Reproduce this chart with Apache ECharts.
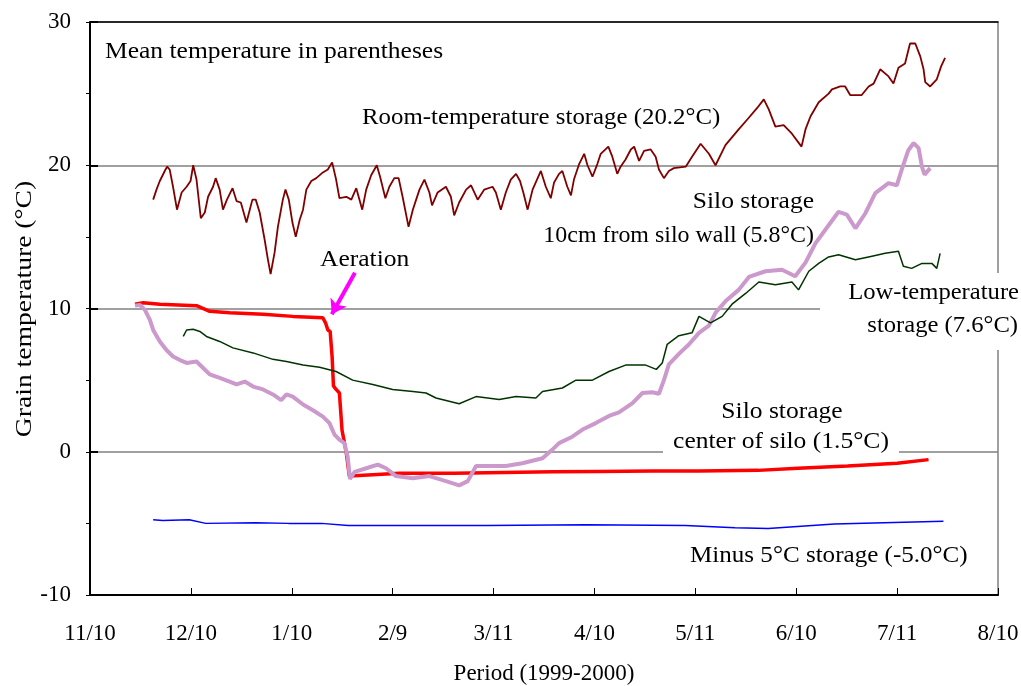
<!DOCTYPE html>
<html>
<head>
<meta charset="utf-8">
<script src="https://cdn.jsdelivr.net/npm/echarts@6.0.0/dist/echarts.min.js"></script>
<style>
  html, body { margin: 0; padding: 0; background: #fff; }
  #main { width: 1021px; height: 686px; }
</style>
</head>
<body>
<div id="main"></div>
<script>
// days counted from 11/10/1999; ticks every 30.5 days
var dayStep = 30.5;
var tickLabels = ['11/10', '12/10', '1/10', '2/9', '3/11', '4/10', '5/11', '6/10', '7/11', '8/10'];

// room-temperature storage [day, degC]
var roomTemp = [
  [19.1,17.6],[20.1,18.3],[21.1,18.9],[22.6,19.6],[23.3,19.9],[24.1,19.7],[25.1,18.5],[26.3,16.9],
  [27.7,18.1],[29.2,18.5],[30.4,18.9],[31.2,20.0],[32.2,19.0],[33.5,16.3],[34.7,16.7],[35.7,17.8],
  [37.2,18.5],[38.0,19.1],[39.2,18.3],[40.2,16.9],[41.4,17.6],[43.1,18.4],[44.3,17.5],[45.6,17.4],
  [47.3,16.0],[48.3,16.9],[49.1,17.6],[50.1,17.6],[51.3,16.7],[52.8,14.8],[53.8,13.4],[54.6,12.4],
  [55.8,13.9],[56.8,15.7],[58.3,17.6],[59.1,18.3],[60.1,17.6],[61.2,16.0],[62.2,15.0],[63.4,16.2],
  [64.4,16.9],[65.4,18.3],[66.9,18.9],[68.4,19.1],[70.4,19.5],[71.9,19.7],[73.2,20.2],[74.4,19.0],
  [75.4,17.7],[77.5,17.8],[79.0,17.6],[80.5,18.4],[82.3,16.9],[83.5,18.3],[85.0,19.3],[86.7,20.0],
  [87.7,19.2],[89.3,17.7],[90.5,18.5],[92.0,19.1],[93.3,19.1],[94.5,17.8],[96.3,15.7],[97.6,16.9],
  [98.6,17.6],[99.6,18.3],[101.1,19.0],[102.6,18.1],[103.4,17.2],[105.1,18.1],[107.6,18.5],[109.1,17.8],
  [110.1,16.5],[111.6,17.4],[113.7,18.3],[115.2,18.6],[117.2,17.6],[119.2,18.3],[121.7,18.5],[122.7,18.1],
  [124.2,16.9],[125.7,18.1],[127.2,19.0],[128.8,19.4],[130.0,18.9],[131.0,18.1],[132.3,16.9],[133.8,18.3],
  [136.3,19.6],[137.8,18.5],[139.3,17.7],[140.3,18.8],[141.8,19.4],[142.8,19.6],[144.3,18.5],[145.4,17.9],
  [146.3,19.0],[147.9,20.1],[149.4,20.8],[150.4,20.0],[151.9,19.2],[153.4,20.1],[154.4,20.8],[156.7,21.3],
  [157.9,20.6],[159.4,19.4],[160.4,19.9],[161.9,20.4],[163.5,21.1],[164.5,21.3],[166.0,20.3],[167.5,21.0],
  [169.5,21.1],[171.0,20.6],[172.0,19.7],[173.5,19.1],[175.0,19.6],[176.5,19.8],[180.1,19.9],[182.0,20.6],
  [184.6,21.5],[187.1,20.8],[189.1,20.0],[192.1,21.4],[196.1,22.5],[199.1,23.3],[201.7,24.0],[203.7,24.6],
  [205.2,23.9],[207.2,22.7],[209.7,22.8],[212.2,22.2],[215.1,21.3],[216.3,22.5],[217.8,23.4],[220.3,24.4],
  [223.3,25.0],[224.3,25.3],[226.8,25.5],[228.3,25.5],[229.8,24.9],[233.3,24.9],[235.4,25.5],[236.9,25.7],
  [238.9,26.7],[241.4,26.2],[242.9,25.7],[244.4,26.8],[246.4,27.1],[247.9,28.5],[249.5,28.5],[251.0,27.6],
  [252.0,26.7],[252.5,25.8],[254.0,25.5],[256.0,26.0],[257.3,26.9],[258.5,27.5]
];

// silo storage, center of silo
var siloCenter = [
  [13.6,10.3],[16.1,10.4],[21.1,10.3],[32.2,10.2],[36.2,9.8],[42.2,9.7],[52.3,9.6],[61.3,9.45],
  [70.4,9.35],[71.2,9.0],[71.9,8.5],[72.6,8.4],[73.2,6.6],[73.6,4.6],[74.4,4.35],[75.4,4.1],
  [76.2,1.5],[77.5,-0.1],[78.4,-1.7],[85.5,-1.6],[93.5,-1.5],[110,-1.5],[125,-1.45],[140,-1.4],
  [153.9,-1.37],[170,-1.35],[184,-1.35],[202,-1.3],[214,-1.15],[229,-1.0],[244,-0.8],[253.5,-0.55]
];

// silo storage, 10cm from silo wall
var siloWall = [
  [13.6,10.2],[15.1,10.25],[16.6,9.9],[18.1,9.2],[19.1,8.5],[21.1,7.7],[23.1,7.1],[25.1,6.65],
  [27.2,6.4],[29.2,6.2],[32.2,6.3],[34.2,5.85],[36.2,5.4],[39.2,5.15],[42.2,4.9],[44.3,4.7],
  [46.8,4.9],[49.3,4.55],[52.3,4.35],[55.3,4.0],[57.8,3.6],[59.4,4.0],[61.3,3.85],[64.4,3.3],
  [67.4,2.9],[70.4,2.45],[72.4,2.0],[73.9,1.2],[75.4,0.85],[76.9,0.6],[77.9,-0.35],[78.6,-1.9],
  [80,-1.4],[83.5,-1.15],[87,-0.9],[89.5,-1.15],[92.5,-1.7],[97.6,-1.85],[102.6,-1.7],[107.6,-2.05],
  [111.6,-2.35],[114.2,-2.05],[116.7,-1.0],[120.7,-1.0],[125.7,-1.0],[130.7,-0.8],[136.8,-0.45],[139.8,0.15],
  [141.8,0.6],[145.8,1.05],[148.9,1.55],[152.9,2.0],[156.9,2.5],[159.9,2.75],[164.0,3.4],[167.0,4.1],
  [170.0,4.15],[172.0,4.05],[173.5,5.0],[175.0,6.1],[178.1,6.85],[181.1,7.5],[184.1,8.3],[187.1,8.8],
  [189.1,9.7],[192.1,10.5],[196.1,11.3],[199.2,12.2],[204.2,12.6],[209.2,12.7],[213.2,12.25],[216.3,13.2],
  [219.3,14.55],[222.3,15.5],[226.3,16.75],[228.8,16.55],[231.4,15.6],[234.4,16.65],[237.4,18.05],[241.4,18.75],
  [243.9,18.6],[245.4,19.7],[247.4,21.05],[249.0,21.55],[250.5,21.2],[251.5,19.9],[252.3,19.35],[254.0,19.8]
];

// low-temperature storage
var lowTemp = [
  [28.2,8.05],[29.2,8.5],[31.2,8.55],[33.2,8.4],[35.2,8.05],[39.2,7.7],[43.2,7.25],[49.3,6.9],
  [55.3,6.45],[59.4,6.3],[64.4,6.05],[69.4,5.9],[74.4,5.6],[79.4,5.0],[85.5,4.7],[91.5,4.35],
  [97.6,4.2],[101.6,4.1],[104.6,3.75],[111.6,3.35],[116.7,3.85],[123.7,3.65],[128.8,3.85],[134.8,3.75],
  [136.8,4.2],[142.8,4.45],[146.9,5.0],[151.9,5.0],[156.9,5.6],[161.9,6.05],[168.0,6.05],[171.2,5.75],
  [173.0,6.2],[174.5,7.5],[178.0,8.1],[182.0,8.3],[184.1,9.45],[187.6,9.0],[191.1,9.45],[194.1,10.3],
  [198.2,11.05],[202.2,11.85],[207.2,11.65],[212.2,11.85],[214.2,11.3],[217.3,12.6],[220.3,13.15],[223.3,13.6],
  [226.3,13.75],[231.4,13.4],[236.4,13.65],[240.4,13.85],[244.4,14.0],[245.9,12.95],[248.4,12.8],[251.5,13.15],
  [254.5,13.15],[256.0,12.8],[257.0,13.85]
];

// minus 5 degC storage
var minus5 = [
  [19.1,-4.75],[22,-4.8],[30,-4.75],[35,-5.0],[50,-4.95],[60,-5.0],[70,-5.0],[78,-5.15],[95,-5.15],
  [120,-5.15],[150,-5.1],[180,-5.15],[195,-5.3],[205,-5.35],[215,-5.2],[225,-5.05],[240,-4.95],[258,-4.85]
];

// aeration arrow, from label to the drop
var aerationArrow = [[80.1, 12.5], [73.1, 9.6]];

var FONT = 'Liberation Serif';

// annotation text; scaleX widens it like the wide spacing of the original
function label(text, x, y, align, opts) {
  opts = opts || {};
  return {
    type: 'text', x: x, y: y, z: 101,
    scaleX: opts.scaleX || 1.11, rotation: opts.rotation || 0,
    style: { text: text, font: (opts.size || 23) + 'px "' + FONT + '"', fill: '#000', align: align || 'left', verticalAlign: 'middle' }
  };
}
function whiteBox(x, y, w, h) {
  return { type: 'rect', z: 100, shape: { x: x, y: y, width: w, height: h }, style: { fill: '#fff' } };
}

var chart = echarts.init(document.getElementById('main'), null, { renderer: 'canvas' });

var option = {
  animation: false,
  backgroundColor: '#fff',
  grid: { left: 90, top: 22, right: 23, bottom: 91, outerBoundsMode: 'none', containLabel: false },
  xAxis: [{
    type: 'value', min: 0, max: dayStep * 9, interval: dayStep, position: 'bottom',
    axisLine: { onZero: false, lineStyle: { color: '#000', width: 2 } },
    axisTick: { inside: true, length: 7, lineStyle: { color: '#000', width: 1 } },
    axisLabel: {
      margin: 27, color: '#000', fontFamily: FONT, fontSize: 23,
      formatter: function (v) { return tickLabels[Math.round(v / dayStep)] || ''; }
    },
    splitLine: { show: false },
    name: 'Period (1999-2000)', nameLocation: 'middle', nameGap: 67,
    nameTextStyle: { color: '#000', fontFamily: FONT, fontSize: 23 }
  }, {
    type: 'value', min: 0, max: dayStep * 9, position: 'top',
    axisLine: { onZero: false, lineStyle: { color: '#000', width: 1.5 } },
    axisTick: { show: false }, axisLabel: { show: false }, splitLine: { show: false }
  }],
  yAxis: [{
    type: 'value', min: -10, max: 30, interval: 10, position: 'left',
    axisLine: { show: true, onZero: false, lineStyle: { color: '#000', width: 2 } },
    axisTick: { show: true, inside: true, length: 8, lineStyle: { color: '#000', width: 2 } },
    axisLabel: { margin: 19, color: '#000', fontFamily: FONT, fontSize: 23 },
    splitLine: { show: true, lineStyle: { color: '#808080', width: 1.5 } }
  }, {
    type: 'value', min: -10, max: 30, interval: 5, position: 'left',
    axisLine: { show: false, onZero: false },
    axisTick: { show: true, inside: false, length: 4, lineStyle: { color: '#000', width: 1 } },
    axisLabel: { show: false }, splitLine: { show: false }
  }, {
    type: 'value', min: -10, max: 30, position: 'right',
    axisLine: { show: true, onZero: false, lineStyle: { color: '#808080', width: 1.5 } },
    axisTick: { show: false }, axisLabel: { show: false }, splitLine: { show: false }
  }],
  series: [{
    name: 'center of silo', type: 'line', data: siloCenter, showSymbol: false,
    lineStyle: { color: '#FF0000', width: 3.5 }, z: 3,
    markLine: {
      silent: true, symbol: ['none', 'arrow'], symbolSize: 14,
      label: { show: false },
      lineStyle: { color: '#FF00FF', width: 4, type: 'solid' },
      data: [[{ coord: aerationArrow[0] }, { coord: aerationArrow[1] }]]
    }
  }, {
    name: '10cm from silo wall', type: 'line', data: siloWall, showSymbol: false,
    lineStyle: { color: '#CC99CC', width: 4 }, z: 4
  }, {
    name: 'Low-temperature', type: 'line', data: lowTemp, showSymbol: false,
    lineStyle: { color: '#003300', width: 1.5 }, z: 5
  }, {
    name: 'Minus 5', type: 'line', data: minus5, showSymbol: false,
    lineStyle: { color: '#0000FF', width: 1.5 }, z: 5
  }, {
    name: 'Room-temperature', type: 'line', data: roomTemp, showSymbol: false,
    lineStyle: { color: '#800000', width: 1.8 }, z: 5
  }],
  graphic: [
    whiteBox(820, 273, 201, 77),
    whiteBox(663, 398, 236, 59),
    label('Grain temperature (°C)', 25, 309, 'center', { rotation: Math.PI / 2, scaleX: 1.2 }),
    label('Mean temperature in parentheses', 105, 52),
    label('Room-temperature storage (20.2°C)', 362, 118, 'left', { scaleX: 1.08 }),
    label('Silo storage', 814, 202, 'right'),
    label('10cm from silo wall (5.8°C)', 814, 236, 'right', { scaleX: 1.04 }),
    label('Low-temperature', 1019, 293, 'right', { scaleX: 1.07 }),
    label('storage (7.6°C)', 1018, 326, 'right', { scaleX: 1.07 }),
    label('Silo storage', 782, 412, 'center'),
    label('center of silo (1.5°C)', 781, 442, 'center'),
    label('Minus 5°C storage (-5.0°C)', 690, 556, 'left', { scaleX: 1.09 }),
    label('Aeration', 320, 260)
  ]
};

chart.setOption(option);
</script>
</body>
</html>
